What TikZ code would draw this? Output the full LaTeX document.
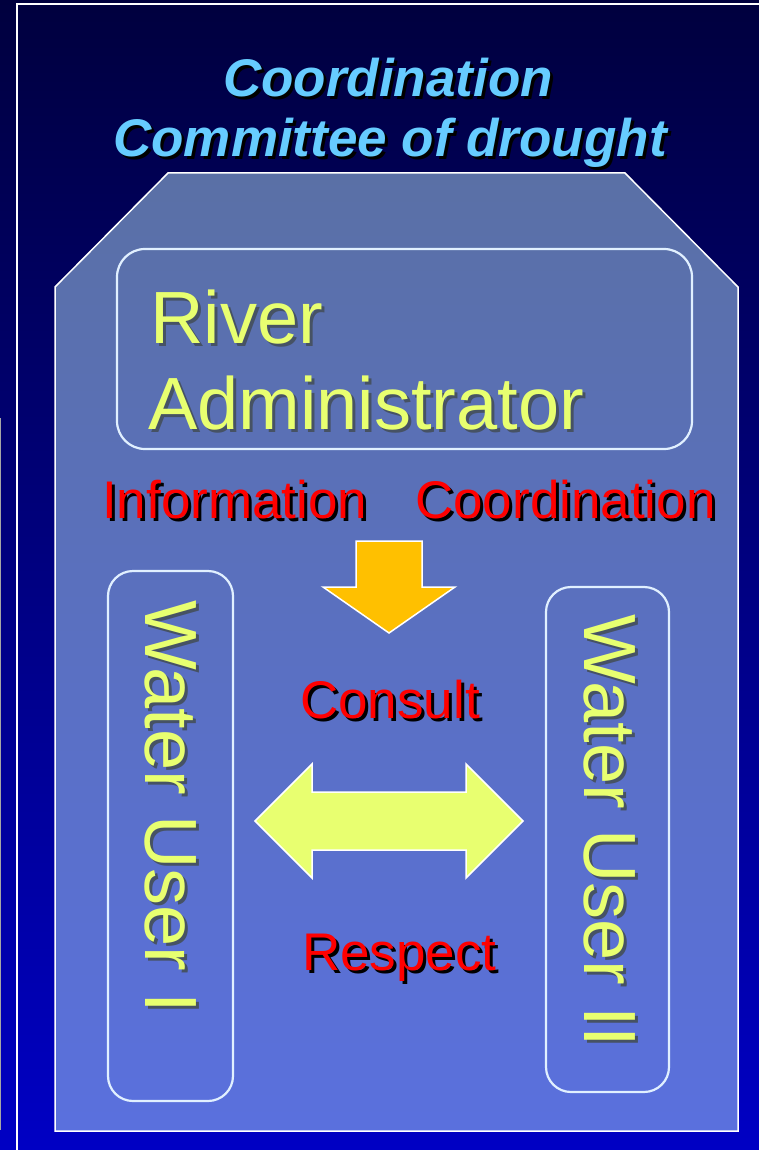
\documentclass[tikz,border=0pt]{standalone}
\usepackage{fontspec}
\setmainfont{Liberation Sans}
\definecolor{bgtop}{RGB}{0,0,62}
\definecolor{bgbot}{RGB}{0,0,196}
\definecolor{panel}{RGB}{180,224,250}
\definecolor{titlecyan}{RGB}{102,204,255}
\definecolor{lemon}{RGB}{232,255,112}
\definecolor{darkshade}{RGB}{70,82,100}
\definecolor{boxline}{RGB}{225,240,255}
\definecolor{amber}{RGB}{255,192,0}
\newcommand{\shd}[2]{\makebox[0pt][l]{\hspace{3pt}\raisebox{-3pt}{\textcolor{#1}{#2}}}#2}
\newcommand{\shdrot}[2]{\makebox[0pt][l]{\hspace{3pt}\raisebox{3pt}{\textcolor{#1}{#2}}}#2}
\tikzset{
  panelbox/.style={draw=boxline, line width=2.2pt, rounded corners=28pt, inner sep=0pt},
  lbl/.style={inner sep=0pt, anchor=base west},
  redlbl/.style={lbl, text=red, font=\fontsize{53}{60}\selectfont},
  yellowlbl/.style={lbl, text=lemon, font=\fontsize{74}{86}\selectfont},
  titlelbl/.style={inner sep=0pt, anchor=base, text=titlecyan, font=\fontsize{53}{60}\selectfont\bfseries\itshape},
  blockarrow/.style={draw=white, line width=1.5pt, line join=miter}
}
\begin{document}
\begin{tikzpicture}[x=1pt, y=-1pt]
\useasboundingbox (0,0) rectangle (759,1150);
% background
\shade[top color=bgtop, bottom color=bgbot] (0,0) rectangle (759,1150);
\draw[white, line width=2pt] (17,1155) -- (17,4) -- (765,4);
\draw[gray!70, line width=1.2pt] (0.6,418) -- (0.6,1130);
% title
\node[titlelbl] (title1) at (388,97) {\shd{black}{Coordination}};
\node[titlelbl] (title2) at (390,157) {\shd{black}{Committee of drought}};
% panel
\filldraw[fill=panel, fill opacity=0.5, draw=white, line width=1.5pt]
  (168,173) -- (625,173) -- (738,287) -- (738,1131) -- (55,1131) -- (55,287) -- cycle;
% river administrator
\node[panelbox, minimum width=575pt, minimum height=200pt] (river) at (404.5,349) {};
\node[yellowlbl] (rivertxt1) at (150,343) {\shd{darkshade}{River}};
\node[yellowlbl] (rivertxt2) at (148,429) {\shd{darkshade}{Administrator}};
% labels
\node[redlbl] (info) at (102,518) {\shd{black}{Information}};
\node[redlbl] (coord) at (415,518) {\shd{black}{Coordination}};
\node[redlbl] (consult) at (300,718) {\shd{black}{Consult}};
\node[redlbl] (respect) at (302,970) {\shd{black}{Respect}};
% down arrow
\filldraw[blockarrow, fill=amber]
  (356,541) -- (422,541) -- (422,587) -- (455,587) -- (389,633) -- (323,587) -- (356,587) -- cycle;
% double arrow
\filldraw[blockarrow, fill=lemon]
  (255,821) -- (312,764) -- (312,792) -- (466,792) -- (466,764) -- (523,821)
  -- (466,878) -- (466,850) -- (312,850) -- (312,878) -- cycle;
% water users
\node[panelbox, rounded corners=25pt, minimum width=125pt, minimum height=530pt] (user1) at (170.5,836) {};
\node[yellowlbl, rotate=-90] (user1txt) at (145,600) {\shdrot{darkshade}{Water User I}};
\node[panelbox, rounded corners=25pt, minimum width=123pt, minimum height=505pt] (user2) at (607.5,839.5) {};
\node[yellowlbl, rotate=-90] (user2txt) at (584,614) {\shdrot{darkshade}{Water User II}};
\end{tikzpicture}
\end{document}
